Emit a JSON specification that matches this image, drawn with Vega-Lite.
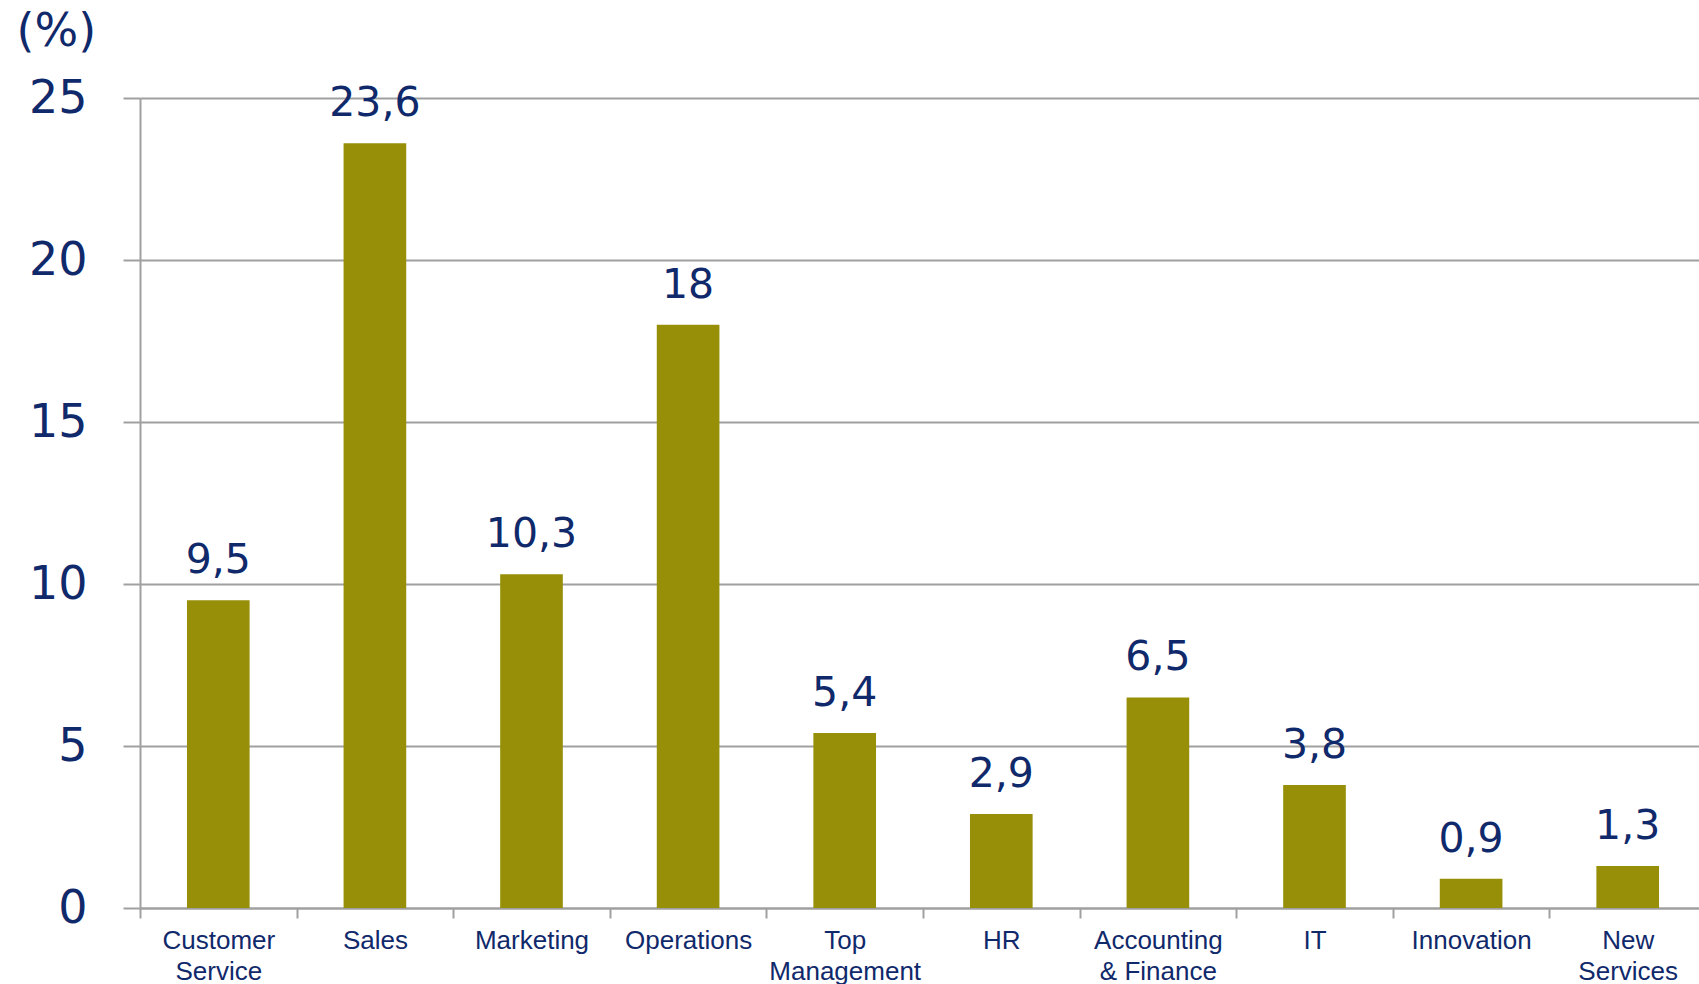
{
  "$schema": "https://vega.github.io/schema/vega-lite/v6.json",
  "width": 1559,
  "height": 810,
  "autosize": "none",
  "padding": {"left": 140, "top": 98, "right": 0, "bottom": 76},
  "background": "white",
  "config": {
    "view": {"stroke": null},
    "locale": {"number": {"decimal": ",", "thousands": ".", "grouping": [3], "currency": ["", " €"]}}
  },
  "data": {
    "values": [
      {"dept": "Customer|Service", "value": 9.5},
      {"dept": "Sales", "value": 23.6},
      {"dept": "Marketing", "value": 10.3},
      {"dept": "Operations", "value": 18},
      {"dept": "Top|Management", "value": 5.4},
      {"dept": "HR", "value": 2.9},
      {"dept": "Accounting|& Finance", "value": 6.5},
      {"dept": "IT", "value": 3.8},
      {"dept": "Innovation", "value": 0.9},
      {"dept": "New|Services", "value": 1.3}
    ]
  },
  "encoding": {
    "x": {
      "field": "dept",
      "type": "nominal",
      "sort": null,
      "scale": {"paddingInner": 0, "paddingOuter": 0, "range": [0, 1566]},
      "axis": {
        "title": null,
        "labelAngle": 0,
        "labelExpr": "split(datum.label, '|')",
        "labelFont": "Liberation Sans",
        "labelFontSize": 26,
        "labelColor": "#10296b",
        "labelLineHeight": 31,
        "labelBaseline": "alphabetic",
        "labelPadding": 30,
        "tickBand": "extent",
        "tickSize": 10,
        "tickColor": "#a0a0a0",
        "tickWidth": 2,
        "domainColor": "#a0a0a0",
        "domainWidth": 2,
        "grid": false
      }
    },
    "y": {
      "field": "value",
      "type": "quantitative",
      "scale": {"domain": [0, 25], "nice": false},
      "axis": {
        "values": [0, 5, 10, 15, 20, 25],
        "title": "(%)",
        "titleAngle": 0,
        "titleAlign": "left",
        "titleBaseline": "alphabetic",
        "titleX": -124,
        "titleY": -53,
        "titleFont": "DejaVu Sans",
        "titleFontSize": 46,
        "titleFontWeight": "normal",
        "titleColor": "#10296b",
        "labelFont": "DejaVu Sans",
        "labelFontSize": 46,
        "labelColor": "#10296b",
        "labelPadding": 36,
        "labelBaseline": "middle",
        "tickSize": 17,
        "tickColor": "#a0a0a0",
        "tickWidth": 2,
        "domainColor": "#a0a0a0",
        "domainWidth": 2,
        "grid": true,
        "gridColor": "#a0a0a0",
        "gridWidth": 2
      }
    }
  },
  "layer": [
    {
      "mark": {"type": "bar", "color": "#978f07", "width": {"band": 0.4}}
    },
    {
      "mark": {
        "type": "text",
        "font": "DejaVu Sans",
        "fontSize": 41,
        "color": "#10296b",
        "baseline": "alphabetic",
        "dy": -27
      },
      "encoding": {
        "text": {"field": "value", "type": "quantitative", "format": ".1~f"}
      }
    }
  ]
}
